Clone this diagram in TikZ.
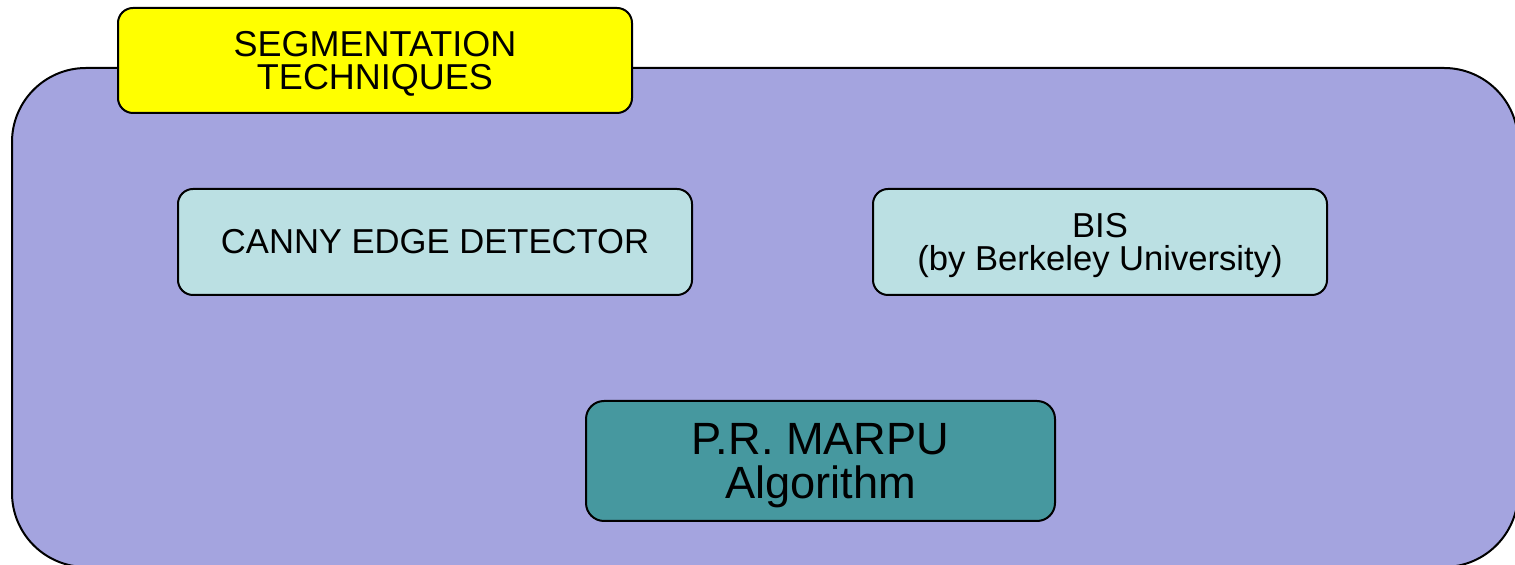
\documentclass[tikz,border=0pt]{standalone}
\usepackage{fontspec}
\setmainfont{Liberation Sans}
\usepackage{tikz}
\usetikzlibrary{positioning}
\definecolor{panelblue}{RGB}{164,164,223}
\definecolor{titleyellow}{RGB}{255,255,0}
\definecolor{lightcyan}{RGB}{187,224,227}
\definecolor{darkteal}{RGB}{70,152,159}

\tikzset{
  box/.style={draw=black, line width=1pt, align=center, inner sep=0pt},
}

\begin{document}
\begin{tikzpicture}[x=0.5pt, y=-0.5pt]
  \useasboundingbox (0,0) rectangle (1515,565);
  \clip (0,0) rectangle (1515,565);

  % Panel
  \node[box, fill=panelblue, rounded corners=37pt,
        minimum width=753pt, minimum height=249.5pt] (panel) at (765,317.5) {};

  % Title
  \node[box, fill=titleyellow, rounded corners=7.5pt,
        minimum width=257pt, minimum height=52.5pt, text depth=0pt,
        font=\fontsize{18}{16.5}\selectfont] (title) at (375,60.5)
        {SEGMENTATION\\TECHNIQUES};

  % Techniques
  \node[box, fill=lightcyan, rounded corners=7.5pt,
        minimum width=257pt, minimum height=53pt,
        font=\fontsize{17.3}{16.5}\selectfont] (canny) at (435,242)
        {CANNY EDGE DETECTOR};
  \node[box, fill=lightcyan, rounded corners=7.5pt,
        minimum width=227pt, minimum height=53pt, text depth=0pt,
        font=\fontsize{17.3}{16.5}\selectfont] (bis) at (1100,242)
        {BIS\\(by Berkeley University)};

  % Algorithm
  \node[box, fill=darkteal, rounded corners=9pt,
        minimum width=234.5pt, minimum height=60pt, text depth=0pt,
        font=\fontsize{22.6}{22}\selectfont] (marpu) at (820.5,461)
        {P.R. MARPU\\Algorithm};
\end{tikzpicture}
\end{document}
